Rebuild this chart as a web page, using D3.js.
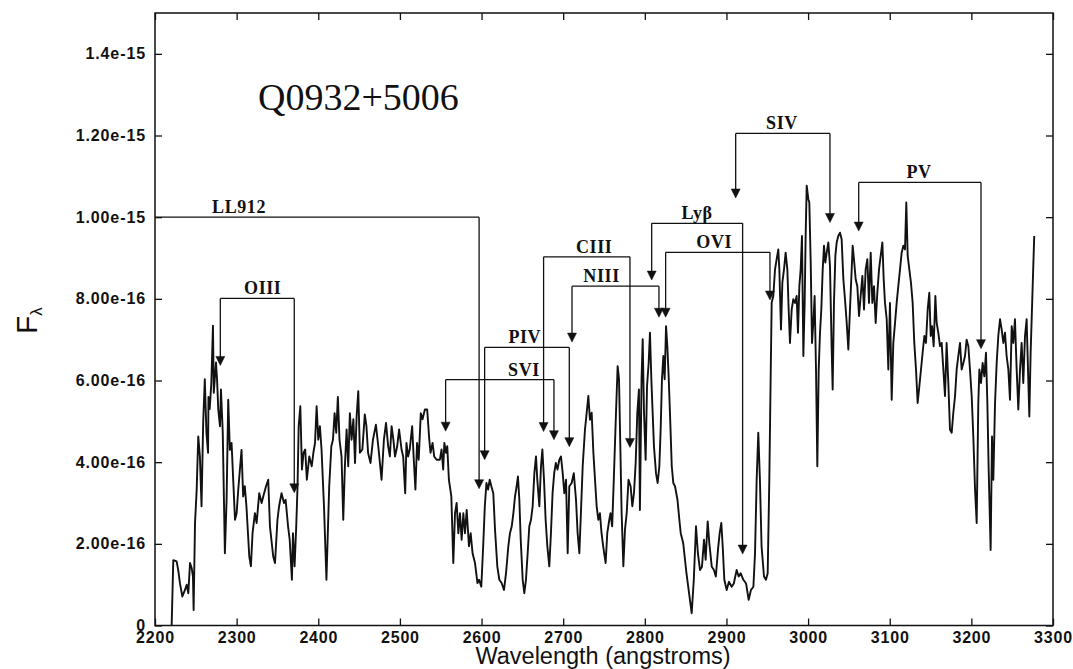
<!DOCTYPE html>
<html>
<head>
<meta charset="UTF-8">
<title>Q0932+5006 spectrum</title>
<script src="https://d3js.org/d3.v7.min.js"></script>
<style>
  body { margin: 0; background: #fff; }
  svg { display: block; }
  .title { font-family: "Liberation Serif", "Times New Roman", "DejaVu Serif", serif; font-weight: normal; }
</style>
</head>
<body>
<script>
  // Spectrum; flux in units of 1e-16 erg/s/cm2/A
  const wavelength = [
    2220.4, 2222.4, 2226.5, 2228.5, 2230.6, 2233.5, 2236.7, 2238.8, 2240.8, 2242.9, 2245, 2246.5, 2247.3, 2249, 2251, 2253,
    2255, 2257, 2259, 2261, 2263, 2265, 2265.5, 2267, 2269, 2271, 2272, 2274.7, 2276, 2277.5, 2279.6, 2280.8, 2283, 2285.6,
    2287.7, 2289.7, 2291.7, 2293.8, 2295.8, 2298, 2300, 2302, 2304, 2306, 2308, 2310, 2312, 2315.5, 2317.5, 2319.5, 2322.4,
    2324.5, 2327.7, 2330.6, 2332.6, 2336, 2338.7, 2340.8, 2344.8, 2347, 2350, 2352, 2355, 2358, 2360, 2363, 2365, 2367.7,
    2369, 2371, 2373, 2374.6, 2376, 2378, 2380, 2382, 2384, 2386, 2389, 2392, 2394, 2396, 2398, 2400, 2402, 2404, 2407,
    2410, 2413.4, 2416, 2418, 2420, 2422, 2424, 2426, 2428.5, 2430.6, 2432.6, 2434.7, 2436.7, 2438.7, 2440.8, 2443, 2445,
    2447, 2449, 2451, 2454, 2457, 2459, 2461, 2464, 2467, 2470.6, 2473.5, 2477.5, 2480.4, 2483, 2485.6, 2487.7, 2489.8,
    2492, 2494, 2496.7, 2499, 2502, 2504, 2506.5, 2508, 2510, 2512, 2515, 2517, 2519, 2521, 2523, 2525.6, 2527.7, 2530.6,
    2533.4, 2536, 2537.5, 2540, 2542, 2545,
    2549, 2551, 2553, 2554.4, 2556.5, 2558, 2560, 2563, 2565.4, 2567.5, 2569.5, 2571.6, 2573.6, 2575.6, 2577.7, 2579.7,
    2581.8, 2584.6, 2586.7, 2589, 2592, 2595, 2597, 2599.7, 2602, 2604, 2606, 2608, 2610, 2612, 2614.4, 2616.5, 2619.3,
    2621.8, 2624.6, 2627.5, 2630, 2632.8, 2634.8, 2637, 2639, 2641, 2643, 2644.6, 2646.3, 2648, 2650.4, 2652.4, 2654.4,
    2656.5, 2658.5, 2660.6, 2662.6, 2664.7, 2666.7, 2668.3, 2670.8, 2672.8, 2674.5, 2676.5, 2678.5, 2680.6, 2683, 2685,
    2687, 2689, 2691, 2693, 2695.3, 2697.3, 2699.4, 2701.4, 2703.5, 2705.5, 2707.5, 2710.4, 2713, 2715.7, 2717.7, 2719.8,
    2721.4, 2723.9, 2726.7, 2728.8, 2730.8, 2732.8, 2734.9, 2737, 2739, 2741, 2743, 2745, 2747, 2749, 2752, 2754, 2756.5,
    2758, 2760, 2762, 2764.7, 2766.7, 2768.4, 2770, 2771.6, 2773.7, 2775.7, 2777.8, 2780, 2782.6, 2784.7, 2786.7, 2788.8,
    2790.8, 2792.8, 2794, 2796, 2797.4, 2799, 2801, 2802.7, 2804.7, 2806.3, 2808, 2809.6, 2811.2, 2813.7, 2815.7, 2817.8,
    2819.4, 2821, 2822.7, 2824.3, 2826, 2827.6, 2829.2, 2830.8, 2833, 2834.9, 2837, 2840, 2842.3,
    2844, 2847, 2851, 2857.4, 2860, 2862.7, 2865, 2867.6, 2870, 2872.5, 2874.5, 2877, 2879, 2882, 2884.7, 2887, 2889.6,
    2891.7, 2893.7, 2895.4, 2897.4, 2900.3, 2903, 2906.4, 2909, 2912.5, 2915, 2917.4, 2920.7, 2924, 2927.2, 2930, 2933,
    2935, 2937, 2939, 2941, 2943, 2946, 2948.4, 2950.5, 2952.5, 2954,
    2955.4, 2957.4, 2959.5, 2961.5, 2963.5, 2964.8, 2966.8, 2968.5, 2970.5, 2972.5, 2974.6, 2976.2, 2977.8, 2979.9,
    2981.9, 2984, 2986, 2987.6, 2989.3, 2990.9, 2992.5, 2994.2, 2995.8, 2997, 2998.3, 3000.3, 3001.5, 3003.2, 3004.8,
    3006.4, 3008, 3009.7, 3011.3, 3013, 3014.6, 3016.2, 3017.9, 3019.5, 3021.1, 3022.8, 3024.8, 3026.8, 3028.9, 3030.1,
    3031.7, 3033.4, 3035, 3037, 3039.1, 3041.1, 3043.2, 3045.2, 3047.3, 3049.3, 3051.3, 3053.4, 3054.6, 3056.2, 3058.3,
    3060.3, 3062.4, 3064.4, 3066.5, 3068.5, 3070.5, 3072.6, 3074.6, 3076.7, 3078.7, 3080.7, 3082.8, 3084.8, 3086.9,
    3088.9, 3091, 3092.6, 3094.2, 3096.3, 3098.3, 3100.3, 3102.4, 3104.4, 3106.5, 3108.5, 3110.5, 3112.6, 3114.6, 3116.7,
    3118.7, 3120.3, 3122, 3124, 3126, 3128.1, 3130.1, 3132.2, 3134.2, 3136.3, 3138.3, 3140.3, 3142.4, 3144.4, 3146.5,
    3148.5, 3150.2, 3151.8, 3153.8, 3155.9, 3157.5, 3159.5, 3161.6, 3163.6, 3165.7, 3167.7, 3169.7, 3171.8, 3173.8,
    3175.9, 3177.9, 3180, 3182, 3184, 3186.1, 3188.1, 3190.2, 3192.2, 3194.2, 3196.3, 3198.3, 3200.4, 3202.4, 3204.5,
    3206.5, 3208.5, 3209.8, 3211.8, 3213.8, 3215.9, 3217.9, 3219.6, 3221.2, 3223.6, 3225.3, 3226.9, 3229, 3231, 3233,
    3235.1, 3237.1, 3239.2, 3241.2, 3243.2, 3245.3, 3247.3, 3249.4, 3251.4, 3253.4, 3255.5, 3257.5, 3259.6, 3261.6,
    3263.6, 3265.7, 3267.7, 3269.4, 3271, 3272.6, 3275.1, 3277
  ];
  const flux = [
    0, 1.6, 1.57, 1.35, 1.03, 0.71, 0.87, 1.0, 0.79, 1.53, 1.4, 1.2, 0.38, 2.5, 3.3, 4.63,
    4.14, 2.92, 4.96, 6.03, 4.72, 4.23, 5.6, 5.3, 5.94, 7.34, 5.7, 6.44, 6.03, 5.29, 4.88, 5.78, 4.72, 1.77,
    3.08, 5.53, 4.3, 4.47, 3.57, 2.59, 2.75, 3.33, 3.82, 4.3, 3.16, 3.41, 2.92, 1.69, 1.45, 2.26, 2.75,
    2.51, 3.24, 3.0, 3.16, 3.41, 3.57, 2.43, 1.69, 1.53, 2.59, 2.92, 3.24, 3.0, 3.08, 2.43, 2.1, 1.12,
    2.26, 1.45, 2.43, 3.41, 4.88, 5.37, 3.82, 4.23, 4.31, 3.57, 4.14, 3.9, 4.23, 4.47, 5.37, 4.55, 4.88, 4.31, 2.92,
    1.12, 3.41, 4.39, 4.55, 5.2, 4.72, 5.6, 4.55, 4.14, 2.59, 3.9, 4.8, 3.9, 5.2, 4.55, 5.05, 3.98,
    5.13, 5.74, 4.23, 4.31, 5.17, 4.88, 4.23, 3.98, 4.55, 4.92, 4.39, 3.57, 4.55, 4.96, 4.39, 4.14, 4.88,
    4.55, 4.14, 4.39, 4.8, 4.31, 4.14, 3.24, 4.47, 4.14, 4.31, 4.88, 4.06, 3.33, 4.47, 4.06, 5.2, 5.05, 5.29,
    5.29, 4.55, 4.23, 4.47, 4.14, 4.06,
    4.06, 4.31, 3.82, 4.47, 4.23, 4.39, 3.57, 3.16, 1.53, 2.75, 3.0, 2.26, 2.75, 2.1, 2.75, 2.26,
    2.83, 1.94, 2.26, 1.77, 1.53, 1.04, 1.12, 0.95, 1.94, 2.92, 3.49, 3.33, 3.57, 3.41, 3.24, 2.35, 1.45,
    1.12, 1.04, 0.87, 1.28, 1.94, 2.26, 2.43, 2.75, 3.16, 3.41, 3.65, 3.08, 2.1, 1.12, 0.79, 1.12,
    1.77, 2.43, 2.59, 2.92, 3.73, 4.14, 3.57, 2.92, 3.9, 4.31, 3.57, 2.59, 1.94, 1.45, 2.26,
    3.24, 3.73, 3.98, 3.82, 4.06, 4.14, 3.73, 3.24, 3.57, 1.77, 3.41, 3.49, 3.73, 3.08, 2.26, 1.77,
    2.59, 3.9, 4.8, 5.21, 5.62, 5.04, 5.21, 4.23, 3.57, 2.92, 2.59, 2.75, 2.26, 1.94, 1.53, 2.26, 2.59,
    2.75, 2.43, 3.57, 5.21, 6.35, 6.03, 4.39, 2.75, 1.45, 2.35, 2.75, 3.57, 3.41, 2.92, 3.24, 3.98,
    5.21, 5.78, 2.83, 6.03, 7.01, 5.21, 4.06, 5.86, 6.43, 7.17, 6.03, 5.21, 4.39, 3.73, 3.49, 3.9,
    4.8, 6.03, 6.6, 6.03, 7.33, 6.84, 6.1, 5.21, 3.9, 3.49, 3.41, 3.08, 2.59,
    2.26, 2.02, 1.28, 0.3, 1.12, 2.43, 1.77, 1.36, 1.44, 2.1, 1.61, 2.55, 2.02, 1.44, 1.36, 1.2, 1.85,
    2.26, 2.51, 1.94, 1.12, 0.87, 1.07, 0.95, 1.03, 1.36, 1.2, 1.28, 1.12, 1.03, 0.63, 0.87, 0.95,
    1.77, 3.57, 4.72, 3.57, 1.94, 1.2, 1.12, 1.28, 3.57, 5.86,
    7.91, 8.07, 8.72, 8.97, 9.21, 8.72, 7.25, 8.4, 8.72, 9.13, 8.72, 7.74, 6.92, 7.74,
    7.99, 7.9, 8.07, 7.17, 8.31, 8.72, 9.54, 6.6, 7.9, 9.54, 10.77, 10.44, 10.36, 8.89, 6.92,
    7.41, 8.07, 6.27, 3.9, 6.27, 7.17, 7.74, 8.72, 9.3, 8.89, 9.13, 9.38, 8.81, 6.76, 5.78,
    7.9, 9.05, 9.38, 9.54, 9.62, 9.46, 8.48, 7.99, 7.41, 6.76, 7.74, 8.72, 9.3, 8.97, 8.48,
    8.31, 7.58, 8.07, 8.56, 7.74, 8.72, 8.97, 7.9, 9.13, 7.9, 8.31, 7.41, 8.15, 8.72,
    9.05, 9.38, 8.48, 7.9, 7.5, 6.27, 7.9, 5.53, 6.92, 7.41, 7.9, 8.31, 8.72, 9.13, 9.3,
    9.21, 10.36, 9.05, 8.72, 8.4, 7.9, 6.92, 6.27, 5.45, 5.86, 6.27, 6.68, 7.09, 6.92, 7.74,
    8.15, 7.09, 7.33, 6.84, 8.07, 7.41, 7.17, 6.84, 6.92, 6.27, 5.62, 6.92, 5.94, 4.8,
    4.72, 5.21, 5.62, 6.27, 6.6, 6.92, 6.27, 6.43, 6.6, 7.0, 6.84, 6.27, 5.62, 4.63, 3.33,
    2.51, 5.45, 6.27, 5.94, 6.43, 6.1, 6.68, 5.45, 3.82, 1.85, 4.63, 3.57, 5.45, 6.43, 7.09,
    7.5, 7.25, 6.92, 7.17, 6.6, 6.27, 5.53, 7.33, 6.92, 7.5, 6.27, 5.29, 6.27, 6.92,
    5.94, 7.09, 7.5, 6.27, 5.12, 6.68, 8.31, 9.54
  ];

  const xTicks = [2200, 2300, 2400, 2500, 2600, 2700, 2800, 2900, 3000, 3100, 3200, 3300];
  const yTicks = [0, 2, 4, 6, 8, 10, 12, 14];
  const yTickLabels = ["0", "2.00e-16", "4.00e-16", "6.00e-16", "8.00e-16", "1.00e-15", "1.20e-15", "1.4e-15"];

  // Line identifications: bracket height, left/right wavelengths, arrow tips (null = no arrow)
  const lineNames = ["LL912", "OIII", "SVI", "PIV", "CIII", "NIII", "Ly\u03b2", "OVI", "SIV", "PV"];
  const lineTop = [10.0, 8.01, 6.02, 6.81, 9.03, 8.31, 9.85, 9.14, 12.05, 10.85];
  const lineLeft = [2200, 2280, 2556, 2603.8, 2676, 2710.8, 2808.4, 2825.5, 2911.3, 3062];
  const lineRight = [2597, 2370.6, 2688.7, 2707.5, 2781.8, 2817.3, 2919.8, 2953.3, 3026.8, 3211.8];
  const leftTip = [null, 6.37, 4.76, 4.06, 4.75, 6.94, 8.46, 7.55, 10.47, 9.66];
  const rightTip = [3.35, 3.25, 4.55, 4.38, 4.36, 7.55, 1.75, 7.97, 9.87, 6.78];
  const labelX = [2303, 2332, 2652, 2653, 2738, 2747, 2864, 2885, 2968, 3136];

  const w = 1073;
  const h = 669;
  const margin = { top: 13, right: 20, bottom: 43.5, left: 155 };

  const xScale = d3.scaleLinear()
    .domain([2200, 3300])
    .range([margin.left, w - margin.right]);

  const yScale = d3.scaleLinear()
    .domain([0, 15])
    .range([h - margin.bottom, margin.top]);

  const svg = d3.select("body")
    .append("svg")
    .attr("width", w)
    .attr("height", h);

  const sans = "'Liberation Sans', Arial, Helvetica, sans-serif";
  const serif = "'Liberation Serif', 'Times New Roman', Times, serif";

  // Axes with inward ticks on all four sides
  const xAxis = svg.append("g")
    .attr("transform", "translate(0," + yScale(0) + ")")
    .call(d3.axisBottom(xScale).tickValues(xTicks).tickSizeInner(-7).tickSizeOuter(0)
      .tickPadding(6).tickFormat(d3.format("d")));

  svg.append("g")
    .attr("transform", "translate(0," + yScale(15) + ")")
    .call(d3.axisTop(xScale).tickValues(xTicks).tickSizeInner(-7).tickSizeOuter(0).tickFormat(""));

  const yAxis = svg.append("g")
    .attr("transform", "translate(" + xScale(2200) + ",0)")
    .call(d3.axisLeft(yScale).tickValues(yTicks).tickSizeInner(-7).tickSizeOuter(0)
      .tickPadding(9).tickFormat((d, i) => yTickLabels[i]));

  svg.append("g")
    .attr("transform", "translate(" + xScale(3300) + ",0)")
    .call(d3.axisRight(yScale).tickValues(yTicks).tickSizeInner(-7).tickSizeOuter(0).tickFormat(""));

  svg.selectAll(".domain").remove();
  svg.selectAll(".tick line").attr("stroke", "#111").attr("stroke-width", 1.3);

  xAxis.selectAll("text")
    .attr("fill", "#111")
    .attr("font-family", sans)
    .attr("font-size", 16)
    .attr("font-weight", "bold")
    .attr("letter-spacing", 0.8);

  yAxis.selectAll("text")
    .attr("fill", "#111")
    .attr("font-family", sans)
    .attr("font-size", 16)
    .attr("font-weight", "bold")
    .attr("letter-spacing", 0.9);

  // Frame
  svg.append("rect")
    .attr("x", xScale(2200))
    .attr("y", yScale(15))
    .attr("width", xScale(3300) - xScale(2200))
    .attr("height", yScale(0) - yScale(15))
    .attr("fill", "none")
    .attr("stroke", "#111")
    .attr("stroke-width", 1.5);

  // Spectrum
  const line = d3.line()
    .x((d, i) => xScale(wavelength[i]))
    .y((d) => yScale(d));

  svg.append("path")
    .datum(flux)
    .attr("d", line)
    .attr("fill", "none")
    .attr("stroke", "#111")
    .attr("stroke-width", 1.9)
    .attr("stroke-linejoin", "round");

  // Line ID brackets with arrows
  function arrowHead(x, yTip) {
    return "M" + (x - 4.5) + "," + (yTip - 9) + "L" + (x + 4.5) + "," + (yTip - 9) + "L" + x + "," + yTip + "Z";
  }

  const ids = svg.append("g").attr("stroke", "#111").attr("stroke-width", 1.3).attr("fill", "#111");

  lineNames.forEach((name, i) => {
    const xl = xScale(lineLeft[i]);
    const xr = xScale(lineRight[i]);
    const yt = yScale(lineTop[i]);

    ids.append("line").attr("x1", xl).attr("x2", xr).attr("y1", yt).attr("y2", yt);

    if (leftTip[i] !== null) {
      ids.append("line").attr("x1", xl).attr("x2", xl).attr("y1", yt).attr("y2", yScale(leftTip[i]) - 8);
      ids.append("path").attr("d", arrowHead(xl, yScale(leftTip[i]))).attr("stroke-width", 0.5);
    }
    ids.append("line").attr("x1", xr).attr("x2", xr).attr("y1", yt).attr("y2", yScale(rightTip[i]) - 8);
    ids.append("path").attr("d", arrowHead(xr, yScale(rightTip[i]))).attr("stroke-width", 0.5);

    svg.append("text")
      .attr("x", xScale(labelX[i]))
      .attr("y", yt - 4)
      .attr("text-anchor", "middle")
      .attr("fill", "#111")
      .attr("font-family", serif)
      .attr("font-size", 18)
      .attr("font-weight", "bold")
      .attr("letter-spacing", 0.6)
      .text(name);
  });

  // Title
  svg.append("text")
    .attr("class", "title")
    .attr("x", 258)
    .attr("y", 110)
    .attr("fill", "#111")
    .style("font-size", "38px")
    .text("Q0932+5006");

  // Axis titles
  svg.append("text")
    .attr("x", 603)
    .attr("y", 664)
    .attr("text-anchor", "middle")
    .attr("fill", "#111")
    .attr("font-family", sans)
    .attr("font-size", 23.5)
    .text("Wavelength (angstroms)");

  const yLabel = svg.append("text")
    .attr("transform", "translate(37,334) rotate(-90)")
    .attr("fill", "#111")
    .attr("font-family", sans);

  yLabel.append("tspan").attr("font-size", 30).text("F");
  yLabel.append("tspan").attr("font-size", 17).attr("dy", 5).text("\u03bb");
</script>
</body>
</html>
